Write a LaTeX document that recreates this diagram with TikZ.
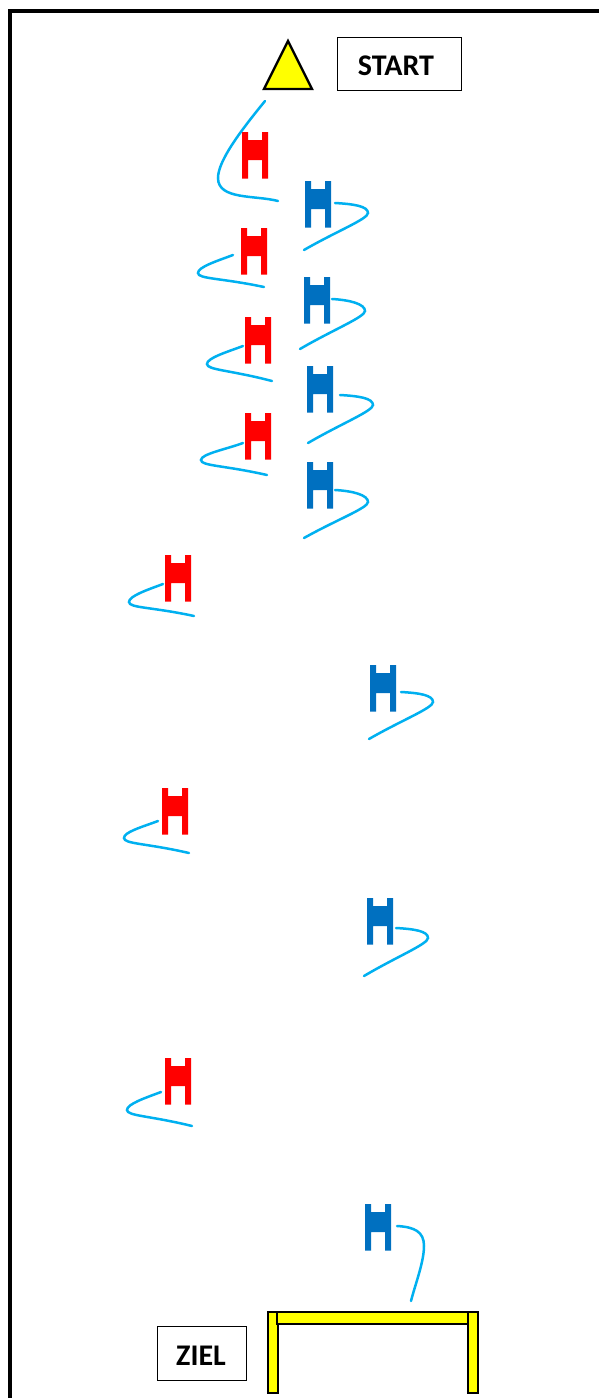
\documentclass[tikz,border=0pt]{standalone}
\usepackage{fontspec}
\setmainfont{Carlito}
\usetikzlibrary{calc}
\definecolor{conered}{RGB}{255,0,0}
\definecolor{coneblue}{RGB}{0,112,192}
\definecolor{pathblue}{RGB}{0,176,240}
\definecolor{markyellow}{RGB}{255,255,0}
\tikzset{
  runpath/.style={draw=pathblue,line width=2.5pt,line cap=round},
  labelbox/.style={draw=black,line width=0.8pt,fill=white},
  labeltext/.style={inner sep=0pt,font=\bfseries\fontsize{30}{32}\selectfont},
  goalbar/.style={draw=black,line width=2pt,fill=markyellow},
  frameline/.style={draw=black,line width=4pt}
}
\newcommand{\conemark}[3]{%
  \fill[#3] (#1,#2) -- ++(6,0) -- ++(0,8) -- ++(14,0) -- ++(0,-8) -- ++(6,0) -- ++(0,46.5) -- ++(-6,0) -- ++(0,-18.5) -- ++(-14,0) -- ++(0,18.5) -- ++(-6,0) -- cycle;}
\newcommand{\bluerun}[6]{%
  \coordinate (s) at (#1,#2); \coordinate (t) at (#3,#4); \coordinate (e) at (#5,#6);
  \draw[runpath] (s) .. controls ($(s)+(18,1)$) and ($(t)+(0,-7)$) .. (t) .. controls ($(t)+(0,6)$) and ($(t)!0.5!(e)$) .. (e);}
\newcommand{\redrun}[6]{%
  \coordinate (s) at (#1,#2); \coordinate (t) at (#3,#4); \coordinate (e) at (#5,#6);
  \draw[runpath] (s) .. controls ($(s)+(-16,6)$) and ($(t)+(0,-6)$) .. (t) .. controls ($(t)+(0,6)$) and ($(t)!0.35!(e)$) .. (e);}
\begin{document}
\begin{tikzpicture}[x=1pt,y=-1pt]
\useasboundingbox (0,0) rectangle (599,1398);
\fill[white] (0,0) rectangle (599,1398);
% frame
\coordinate (fa) at (9.5,1398);
\coordinate (fb) at (9.5,10.5);
\coordinate (fc) at (599,10.5);
\draw[frameline,line join=miter] (fa) -- (fb) -- (fc);
% start
\filldraw[draw=black,line width=2.4pt,fill=markyellow,line join=miter] (288,41) -- (312,89) -- (264,89) -- cycle;
\node[labelbox,minimum width=124pt,minimum height=53pt,anchor=north west] (start) at (337,37) {};
\node[labeltext] (starttext) at (396,66) {START};
% cones
\conemark{242}{132}{conered}
\conemark{241}{228}{conered}
\conemark{245}{317}{conered}
\conemark{245}{413}{conered}
\conemark{165}{555}{conered}
\conemark{162}{788}{conered}
\conemark{165}{1058}{conered}
\conemark{305}{181}{coneblue}
\conemark{304}{277}{coneblue}
\conemark{307}{366}{coneblue}
\conemark{307}{462}{coneblue}
\conemark{370}{665}{coneblue}
\conemark{367}{898}{coneblue}
\conemark{365}{1204}{coneblue}
% paths
\draw[runpath] (265,101) .. controls (243,128) and (218,160) .. (218,178) .. controls (218,200) and (255,195) .. (278,201);
\bluerun{335}{203}{368}{213}{304}{250}
\redrun{233}{255}{198}{273}{264}{287}
\bluerun{332}{299}{365}{311}{300}{349}
\redrun{243}{346}{207}{364}{272}{381}
\bluerun{340}{395}{373}{405}{308}{443}
\redrun{243}{443}{201}{460}{267}{475}
\bluerun{335}{490}{368}{502}{304}{538}
\redrun{163}{584}{129}{602}{194}{616}
\bluerun{401}{692}{433}{702}{369}{739}
\redrun{158}{821}{124}{838}{189}{853}
\bluerun{396}{928}{428}{938}{364}{976}
\redrun{161}{1092}{127}{1110}{192}{1126}
\draw[runpath] (397,1226) .. controls (415,1227) and (424,1232) .. (424,1246) .. controls (424,1262) and (415,1285) .. (411,1301);
% goal
\filldraw[goalbar] (268,1312) rectangle (277.5,1393);
\filldraw[goalbar] (277,1311.5) rectangle (477,1324);
\filldraw[goalbar] (468,1312) rectangle (477.5,1393);
\node[labelbox,minimum width=89pt,minimum height=54pt,anchor=north west] (ziel) at (157,1326) {};
\node[labeltext] (zieltext) at (201,1356) {ZIEL};
\end{tikzpicture}
\end{document}
